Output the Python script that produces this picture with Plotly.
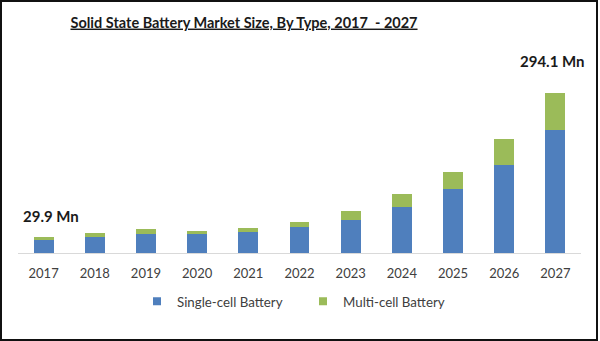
import plotly.graph_objects as go

years = [str(y) for y in range(2017, 2028)]
single_cell = [24.4, 28.7, 34.2, 34.2, 37.9, 47.1, 61.2, 84.5, 116.9, 162.3, 225.4]
multi_cell = [5.5, 7.3, 9.2, 6.8, 8.6, 10.4, 16.5, 23.2, 32.5, 47.2, 68.7]
series_names = ["Single-cell Battery", "Multi-cell Battery"]
series_colors = ["#4F7FBD", "#9BBB59"]
title_text = "Solid State Battery Market Size, By Type, 2017  - 2027"
first_label = "29.9 Mn"
last_label = "294.1 Mn"

W, H = 600, 341
ML, MR, MT, MB = 18, 19, 60, 88
PW, PH = W - ML - MR, H - MT - MB

FONT = "Lato"

fig = go.Figure()
for vals, name, col in zip([single_cell, multi_cell], series_names, series_colors):
    fig.add_trace(go.Bar(x=years, y=vals, name=name, legendgroup=name, showlegend=False,
                         marker=dict(color=col, line=dict(width=0))))
# legend entries with small square swatches
for name, col in zip(series_names, series_colors):
    fig.add_trace(go.Scatter(x=[None], y=[None], mode="markers", name=name, legendgroup=name,
                             marker=dict(symbol="square", size=8, color=col), showlegend=True))

totals = [a + b for a, b in zip(single_cell, multi_cell)]

def px_x(p):
    return (p - ML) / PW

def px_y(p):
    return (H - MB - p) / PH

fig.update_layout(
    width=W, height=H,
    barmode="stack", bargap=0.61,
    margin=dict(l=ML, r=MR, t=MT, b=MB, pad=0, autoexpand=False),
    paper_bgcolor="white", plot_bgcolor="white",
    font=dict(family=FONT, color="#404040"),
    title=dict(text="<b><u>" + title_text + "</u></b>", x=244 / W, xanchor="center",
               xref="container", y=1 - 22.5 / H, yanchor="middle", yref="container",
               font=dict(size=14.5, color="#1a1a1a", family=FONT)),
    xaxis=dict(type="category", range=[-0.5, len(years) - 0.5], showline=True,
               linecolor="#D9D9D9", linewidth=1, ticks="", automargin=False,
               tickfont=dict(size=13, color="#404040", family=FONT),
               ticklabelstandoff=8, showgrid=False),
    yaxis=dict(range=[0, 354.8], visible=False, showgrid=False, automargin=False),
    legend=dict(orientation="h", x=137 / W, xanchor="left", xref="container",
                y=1 - 301.7 / H, yanchor="middle", yref="container",
                entrywidth=121, entrywidthmode="pixels",
                font=dict(size=13.3, color="#404040", family=FONT),
                traceorder="normal"),
    showlegend=True,
    annotations=[
        dict(x=0, y=totals[0], text="<b>" + first_label + "</b>", showarrow=False,
             xanchor="center", yanchor="bottom", xshift=7, yshift=10,
             font=dict(size=15, color="#1a1a1a", family=FONT)),
        dict(x=len(years) - 1, y=totals[-1], text="<b>" + last_label + "</b>", showarrow=False,
             xanchor="center", yanchor="bottom", xshift=-3, yshift=21,
             font=dict(size=15, color="#1a1a1a", family=FONT)),
    ],
    shapes=[
        dict(type="rect", xref="paper", yref="paper",
             x0=px_x(1), x1=px_x(597), y0=px_y(340), y1=px_y(1),
             line=dict(color="#111111", width=2), fillcolor="rgba(0,0,0,0)", layer="above"),
    ],
)

fig.write_html("out.html")
